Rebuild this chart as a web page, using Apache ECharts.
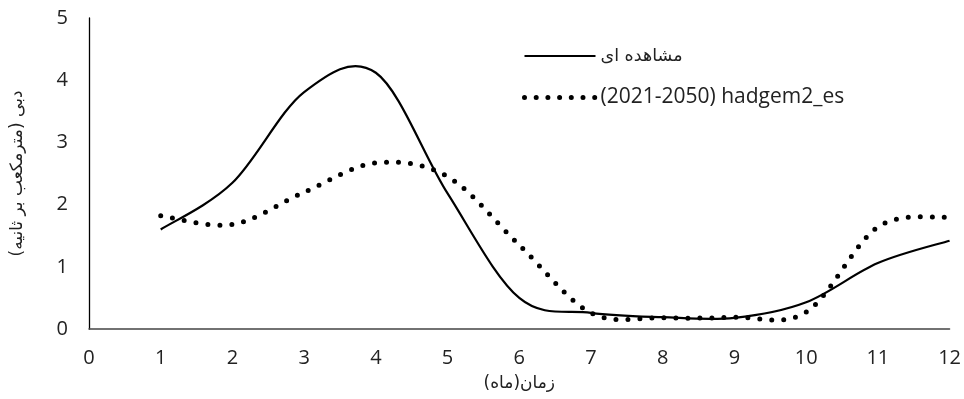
<!DOCTYPE html>
<html>
<head>
<meta charset="utf-8">
<script src="https://cdn.jsdelivr.net/npm/echarts@6/dist/echarts.min.js"></script>
<style>html,body{margin:0;padding:0;background:#fff}#c{width:964px;height:399px}</style>
</head>
<body>
<div id="c"></div>
<script>
const months = [1,2,3,4,5,6,7,8,9,10,11,12];
const observed = [1.60,2.35,3.81,4.12,2.18,0.50,0.26,0.19,0.18,0.43,1.06,1.42];
const hadgem = [1.82,1.68,2.20,2.67,2.45,1.35,0.26,0.18,0.19,0.27,1.64,1.80];
const xTicks = [0,1,2,3,4,5,6,7,8,9,10,11,12];
const yTicks = [0,1,2,3,4,5];
const nameObserved = 'مشاهده ای';
const nameModel = '(2021-2050) hadgem2_es';
const latin = '"Open Sans", "DejaVu Sans", sans-serif';
const arabic = '"DejaVu Sans", sans-serif';

// Smooth curve (Catmull-Rom / Excel-style) through the data points, in pixel space via the axes
function curveRenderer(values, style) {
  return function (params, api) {
    const pts = months.map((m, i) => api.coord([m, values[i]]));
    const n = pts.length;
    let d = 'M' + pts[0][0] + ',' + pts[0][1];
    for (let i = 0; i < n - 1; i++) {
      const p0 = pts[Math.max(i - 1, 0)], p1 = pts[i], p2 = pts[i + 1], p3 = pts[Math.min(i + 2, n - 1)];
      const c1x = p1[0] + (p2[0] - p0[0]) / 6, c1y = p1[1] + (p2[1] - p0[1]) / 6;
      const c2x = p2[0] - (p3[0] - p1[0]) / 6, c2y = p2[1] - (p3[1] - p1[1]) / 6;
      d += 'C' + c1x + ',' + c1y + ',' + c2x + ',' + c2y + ',' + p2[0] + ',' + p2[1];
    }
    return {type: 'path', shape: {pathData: d}, style: Object.assign({fill: 'none', stroke: '#000'}, style), silent: true};
  };
}

const chart = echarts.init(document.getElementById('c'), null, {renderer: 'canvas'});
chart.setOption({
  animation: false,
  backgroundColor: '#fff',
  grid: {left: 89, right: 14, top: 18, bottom: 70, containLabel: false},
  legend: {
    orient: 'vertical', left: 517, top: 42, itemGap: 22, itemWidth: 71, itemHeight: 16,
    itemStyle: {opacity: 0},
    data: [
      {name: nameObserved, lineStyle: {width: 2}},
      {name: nameModel, lineStyle: {width: 5, type: [0, 11.7], cap: 'round'}}
    ],
    formatter: function (n) { return n === nameObserved ? '{ar|' + n + '}' : '{en|' + n + '}'; },
    textStyle: {
      color: '#222',
      rich: {
        ar: {fontFamily: arabic, fontSize: 17.5, color: '#222'},
        en: {fontFamily: latin, fontSize: 21, color: '#222'}
      }
    }
  },
  xAxis: {
    type: 'value', min: xTicks[0], max: xTicks[xTicks.length - 1], interval: 1,
    name: 'زمان(ماه)', nameLocation: 'middle', nameGap: 46,
    nameTextStyle: {fontFamily: arabic, fontSize: 17, color: '#222'},
    axisLine: {lineStyle: {color: '#444', width: 1.5}},
    axisTick: {show: false}, splitLine: {show: false},
    axisLabel: {fontFamily: latin, fontSize: 20, color: '#222', margin: 19}
  },
  yAxis: {
    type: 'value', min: yTicks[0], max: yTicks[yTicks.length - 1], interval: 1,
    name: 'دبی (مترمکعب بر ثانیه)', nameLocation: 'middle', nameGap: 63, nameRotate: 90,
    nameTextStyle: {fontFamily: arabic, fontSize: 17, color: '#222'},
    axisLine: {show: true, lineStyle: {color: '#000', width: 1.3}},
    axisTick: {show: false}, splitLine: {show: false},
    axisLabel: {fontFamily: latin, fontSize: 20, color: '#222', margin: 21}
  },
  series: [
    {name: nameObserved, type: 'line', symbol: 'none', data: [],
     itemStyle: {color: '#000'}, lineStyle: {color: '#000', width: 2}},
    {name: nameModel, type: 'line', symbol: 'none', data: [],
     itemStyle: {color: '#000'}, lineStyle: {color: '#000', width: 5, type: [0, 11.7], cap: 'round'}},
    {name: 'observed-curve', type: 'custom', coordinateSystem: 'cartesian2d', data: [[0, 0]],
     renderItem: curveRenderer(observed, {lineWidth: 2.2})},
    {name: 'hadgem-curve', type: 'custom', coordinateSystem: 'cartesian2d', data: [[0, 0]],
     renderItem: curveRenderer(hadgem, {lineWidth: 5, lineDash: [0, 12], lineCap: 'round'})}
  ]
});
</script>
</body>
</html>
